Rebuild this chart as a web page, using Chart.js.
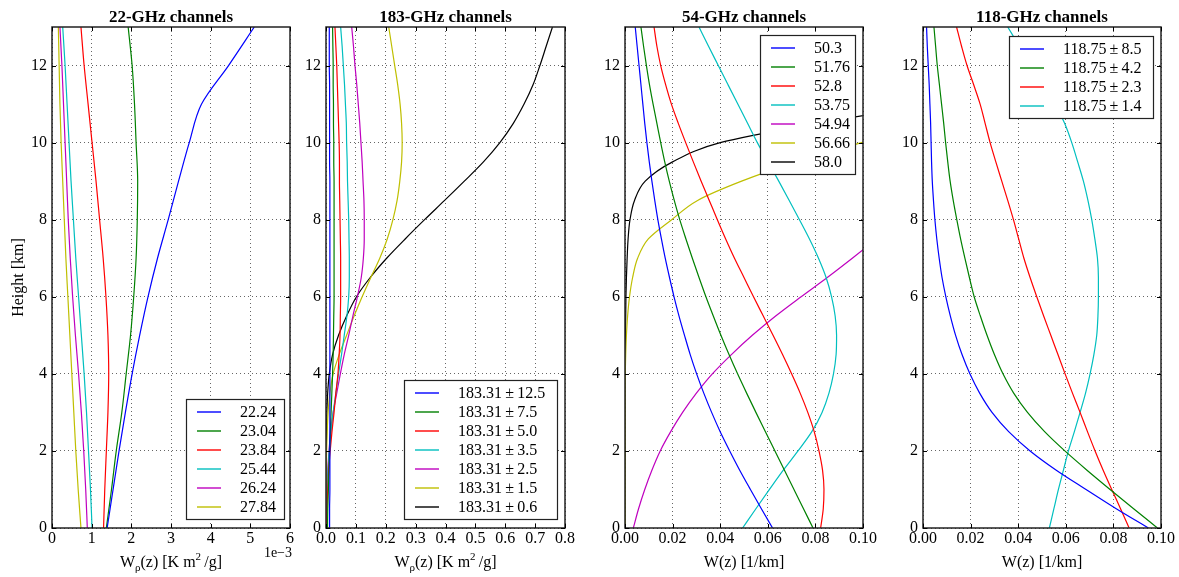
<!DOCTYPE html>
<html><head><meta charset="utf-8">
<script src="https://cdn.jsdelivr.net/npm/chart.js@4/dist/chart.umd.min.js"></script>
<style>
html,body{margin:0;padding:0;background:#fff;width:1179px;height:577px;overflow:hidden}
#wrap{position:relative;width:1179px;height:577px}
canvas{position:absolute;top:0}
</style></head><body>
<div id="wrap"></div>
<script>
// ---------- DATA ----------
// heights [km]
const heightsCoarse = [0,1,2,3,4,5,6,7,8,9,10,11,12,13];
const heightsFine = [0,0.5,1,1.5,2,2.5,3,3.5,4,4.5,5,5.5,6,6.5,7,7.5,8,8.5,9,9.5,10,10.5,11,11.5,12,12.5,13];
const heightTicks = [0,2,4,6,8,10,12];

// 22-GHz channels, W_rho(z) in units of 1e-3 K m^2/g (heightsCoarse)
const labels22 = ['22.24','23.04','23.84','25.44','26.24','27.84'];
const w22_2224 = [1.39,1.54,1.69,1.85,2.02,2.21,2.42,2.66,2.93,3.19,3.46,3.77,4.45,5.10];
const w22_2304 = [1.37,1.50,1.62,1.76,1.87,1.98,2.06,2.12,2.15,2.16,2.12,2.08,2.02,1.92];
const w22_2384 = [1.30,1.33,1.37,1.41,1.43,1.41,1.36,1.29,1.20,1.11,1.01,0.91,0.81,0.73];
const w22_2544 = [1.01,0.97,0.92,0.87,0.81,0.74,0.67,0.60,0.54,0.48,0.43,0.38,0.33,0.27];
const w22_2624 = [0.89,0.85,0.80,0.74,0.67,0.59,0.52,0.46,0.41,0.37,0.33,0.29,0.25,0.20];
const w22_2784 = [0.73,0.66,0.60,0.55,0.50,0.45,0.40,0.35,0.31,0.27,0.23,0.20,0.18,0.16];
const ticks22 = [0,1,2,3,4,5,6];

// 183-GHz channels, W_rho(z) K m^2/g (heightsFine)
const labels183 = ['183.31\u2009±\u200912.5','183.31\u2009±\u20097.5','183.31\u2009±\u20095.0','183.31\u2009±\u20093.5','183.31\u2009±\u20092.5','183.31\u2009±\u20091.5','183.31\u2009±\u20090.6'];
const w183_125 = [0.012,0.012,0.013,0.013,0.013,0.013,0.013,0.013,0.013,0.013,0.013,0.013,0.013,0.013,0.013,0.013,0.013,0.013,0.013,0.012,0.012,0.012,0.012,0.012,0.011,0.011,0.011];
const w183_75 = [0.005,0.006,0.008,0.010,0.012,0.0145,0.017,0.0195,0.022,0.024,0.025,0.026,0.027,0.027,0.027,0.027,0.027,0.027,0.027,0.026,0.026,0.025,0.025,0.024,0.024,0.023,0.022];
const w183_50 = [0.002,0.003,0.006,0.009,0.014,0.020,0.027,0.033,0.040,0.044,0.047,0.048,0.049,0.049,0.049,0.048,0.047,0.046,0.045,0.045,0.044,0.042,0.040,0.038,0.036,0.033,0.030];
const w183_35 = [0.002,0.003,0.004,0.007,0.011,0.017,0.024,0.033,0.042,0.052,0.061,0.070,0.076,0.078,0.078,0.077,0.076,0.074,0.072,0.071,0.069,0.068,0.065,0.062,0.058,0.054,0.049];
const w183_25 = [0.001,0.002,0.004,0.006,0.010,0.016,0.024,0.036,0.048,0.061,0.076,0.090,0.105,0.118,0.125,0.128,0.128,0.127,0.124,0.121,0.117,0.113,0.108,0.103,0.097,0.092,0.086];
const w183_15 = [0.0003,0.0005,0.001,0.001,0.002,0.004,0.007,0.013,0.024,0.044,0.069,0.094,0.121,0.150,0.180,0.205,0.224,0.238,0.247,0.253,0.255,0.253,0.248,0.240,0.230,0.220,0.210];
const w183_06 = [0.0002,0.0003,0.0005,0.001,0.001,0.002,0.003,0.0056,0.011,0.022,0.042,0.069,0.102,0.148,0.203,0.265,0.330,0.397,0.463,0.527,0.582,0.627,0.663,0.693,0.716,0.737,0.758];
const ticks183 = [0,0.1,0.2,0.3,0.4,0.5,0.6,0.7,0.8];

// 54-GHz channels, W(z) 1/km (heightsFine; null = beyond the drawn range)
const labels54 = ['50.3','51.76','52.8','53.75','54.94','56.66','58.0'];
const w54_503 = [0.062,0.0573,0.0527,0.0482,0.0440,0.0400,0.0364,0.0331,0.0301,0.0274,0.0250,0.0227,0.0206,0.0187,0.0169,0.0153,0.0138,0.0125,0.0113,0.0102,0.0092,0.0083,0.0075,0.0067,0.0059,0.0051,0.0043];
const w54_5176 = [0.0790,0.0750,0.0710,0.0670,0.0630,0.0590,0.0550,0.0511,0.0473,0.0437,0.0403,0.0371,0.0340,0.0311,0.0283,0.0256,0.0230,0.0207,0.0186,0.0167,0.0150,0.0134,0.0118,0.0103,0.0090,0.0078,0.0067];
const w54_528 = [0.0822,0.0833,0.0836,0.0830,0.0815,0.0795,0.0768,0.0736,0.0700,0.0662,0.0622,0.0581,0.0540,0.0500,0.0460,0.0423,0.0388,0.0354,0.0320,0.0287,0.0255,0.0224,0.0195,0.0171,0.0150,0.0134,0.0122];
const w54_5375 = [0.0494,0.0550,0.0607,0.0665,0.0727,0.0785,0.0828,0.0857,0.0876,0.0887,0.0889,0.0883,0.0868,0.0845,0.0813,0.0775,0.0733,0.0690,0.0646,0.0601,0.0556,0.0515,0.0474,0.0433,0.0392,0.0351,0.0311];
const w54_5494 = [0.0035,0.0057,0.0083,0.0113,0.0148,0.0192,0.0242,0.0300,0.0367,0.0447,0.0535,0.0633,0.0740,0.0850,0.0955,0.1057,null,null,null,null,null,null,null,null,null,null,null];
const w54_5666 = [0,0,0,0,0,0,0,0,0.0001,0.0003,0.0006,0.0011,0.0019,0.0032,0.0053,0.0098,0.0196,0.0305,0.049,0.072,0.0994,0.13,null,null,null,null,null];
const w54_580 = [0,0,0,0,0,0,0,0,0,0.0001,0.0002,0.0003,0.0004,0.0006,0.0009,0.0013,0.0021,0.004,0.0085,0.02,0.040,0.081,0.13,null,null,null,null];
const ticksW = [0,0.02,0.04,0.06,0.08,0.10];

// 118-GHz channels, W(z) 1/km (heightsFine)
const labels118 = ['118.75\u2009±\u20098.5','118.75\u2009±\u20094.2','118.75\u2009±\u20092.3','118.75\u2009±\u20091.4'];
const w118_85 = [0.0947,0.0812,0.0685,0.0560,0.0450,0.0360,0.0290,0.0238,0.0197,0.0164,0.0137,0.0115,0.0096,0.0080,0.0068,0.0058,0.0050,0.0044,0.0039,0.0036,0.0034,0.0032,0.0029,0.0026,0.0022,0.0018,0.0015];
const w118_42 = [0.0985,0.0885,0.0786,0.0689,0.0596,0.0511,0.0439,0.0381,0.0336,0.0300,0.0269,0.0241,0.0215,0.0195,0.0176,0.0158,0.0142,0.0127,0.0114,0.0104,0.0095,0.0087,0.0078,0.0069,0.0060,0.0053,0.0046];
const w118_23 = [0.0866,0.0830,0.0793,0.0757,0.0723,0.0691,0.0660,0.0628,0.0597,0.0567,0.0537,0.0507,0.0478,0.0450,0.0424,0.0402,0.0380,0.0356,0.0331,0.0306,0.0282,0.0261,0.0240,0.0213,0.0185,0.0162,0.0141];
const w118_14 = [0.0531,0.0550,0.0569,0.0590,0.0611,0.0636,0.0660,0.0683,0.0702,0.0718,0.0730,0.0735,0.0737,0.0737,0.0733,0.0722,0.0709,0.0693,0.0674,0.0650,0.0625,0.0595,0.0555,0.0505,0.0454,0.0405,0.0356];

const colors = ['#0000ff','#008000','#ff0000','#00bfbf','#bf00bf','#bfbf00','#000000'];

// ---------- DRAWING ----------
const SERIF = '"Liberation Serif", "Times New Roman", serif';
const H = 577;

function drawRich(ctx, parts, cx, y) {
  let total = 0;
  parts.forEach(p => { ctx.font = p.s + 'px ' + SERIF; p.w = ctx.measureText(p.t).width; total += p.w; });
  let x = cx - total / 2;
  ctx.textAlign = 'left';
  parts.forEach(p => { ctx.font = p.s + 'px ' + SERIF; ctx.fillText(p.t, x, y + p.dy); x += p.w; });
}

const decor = {
  id: 'decor',
  afterDraw(chart, args, o) {
    const ctx = chart.ctx, a = chart.chartArea;
    ctx.save();
    // legend box
    const lg = o.legend, n = chart.data.datasets.length;
    const pitch = 19, bh = 25 + (n - 1) * pitch;
    const bx = a.right - lg.dx - lg.w;
    const by = lg.pos === 'top' ? a.top + lg.dy : a.bottom - lg.dy - bh;
    ctx.fillStyle = '#fff';
    ctx.fillRect(bx, by, lg.w, bh);
    ctx.strokeStyle = '#222'; ctx.lineWidth = 1.2;
    ctx.strokeRect(bx + 0.5, by + 0.5, lg.w, bh);
    ctx.font = '16px ' + SERIF; ctx.textBaseline = 'middle'; ctx.textAlign = 'left';
    chart.data.datasets.forEach((ds, i) => {
      const yy = by + 13 + i * pitch;
      ctx.strokeStyle = ds.borderColor; ctx.lineWidth = 1.4;
      ctx.beginPath(); ctx.moveTo(bx + 11, yy); ctx.lineTo(bx + 35, yy); ctx.stroke();
      ctx.fillStyle = '#000';
      ctx.fillText(ds.label, bx + 54, yy + 1);
    });
    // frame
    ctx.strokeStyle = '#222'; ctx.lineWidth = 1.5;
    ctx.strokeRect(a.left, a.top, a.right - a.left, a.bottom - a.top);
    // inside ticks
    ctx.lineWidth = 1; ctx.strokeStyle = '#000';
    const xs = chart.scales.x, ys = chart.scales.y;
    xs.ticks.forEach(t => {
      const px = Math.round(xs.getPixelForValue(t.value)) + 0.5;
      ctx.beginPath(); ctx.moveTo(px, a.bottom); ctx.lineTo(px, a.bottom - 4);
      ctx.moveTo(px, a.top); ctx.lineTo(px, a.top + 4); ctx.stroke();
    });
    ys.ticks.forEach(t => {
      const py = Math.round(ys.getPixelForValue(t.value)) + 0.5;
      ctx.beginPath(); ctx.moveTo(a.left, py); ctx.lineTo(a.left + 4, py);
      ctx.moveTo(a.right, py); ctx.lineTo(a.right - 4, py); ctx.stroke();
    });
    // title
    ctx.fillStyle = '#000';
    ctx.font = 'bold 17px ' + SERIF; ctx.textAlign = 'center'; ctx.textBaseline = 'alphabetic';
    const cx = (a.left + a.right) / 2;
    ctx.fillText(o.title, cx, 22);
    // x-axis title
    if (o.rho) {
      drawRich(ctx, [
        {t: 'W', s: 16, dy: 0}, {t: 'ρ', s: 11, dy: 4}, {t: '(z) [K m', s: 16, dy: 0},
        {t: '2', s: 11, dy: -7}, {t: '\u2009/g]', s: 16, dy: 0}], cx, 567);
    } else {
      ctx.font = '16px ' + SERIF; ctx.textAlign = 'center';
      ctx.fillText(o.xTitle, cx, 567);
    }
    // offset text
    if (o.offset) {
      ctx.font = '14px ' + SERIF; ctx.textAlign = 'right';
      ctx.fillText(o.offset, a.right + 2, 557);
    }
    // y-axis title
    if (o.yTitle) {
      ctx.save();
      ctx.translate(19, (a.top + a.bottom) / 2);
      ctx.rotate(-Math.PI / 2);
      ctx.font = '16px ' + SERIF; ctx.textAlign = 'center'; ctx.textBaseline = 'middle';
      ctx.fillText(o.yTitle, 0, 0);
      ctx.restore();
    }
    ctx.restore();
  }
};

function makePanel(p) {
  const c = document.createElement('canvas');
  const w = p.axisW + (p.plotR - p.plotL) + p.padR;
  c.width = w; c.height = H;
  c.style.left = (p.plotL - p.axisW) + 'px';
  c.style.width = w + 'px'; c.style.height = H + 'px';
  document.getElementById('wrap').appendChild(c);
  const datasets = p.series.map((vals, i) => ({
    label: p.labels[i],
    data: p.heights.map((h, j) => vals[j] == null ? null : {x: vals[j], y: h}).filter(d => d),
    borderColor: colors[i], backgroundColor: colors[i],
    borderWidth: 1.2, pointRadius: 0, fill: false,
    cubicInterpolationMode: 'monotone'
  }));
  new Chart(c, {
    type: 'line',
    data: {datasets},
    plugins: [decor],
    options: {
      responsive: false, animation: false, indexAxis: 'y',
      layout: {padding: {top: 27, left: 0, right: p.padR, bottom: 0}},
      plugins: {legend: {display: false}, tooltip: {enabled: false},
        decor: {title: p.title, rho: p.rho, xTitle: p.xTitle, offset: p.offset, yTitle: p.yTitle, legend: p.legend}},
      scales: {
        x: {
          type: 'linear', position: 'bottom', min: p.xTicks[0], max: p.xTicks[p.xTicks.length - 1],
          afterBuildTicks: s => { s.ticks = p.xTicks.map(v => ({value: v})); },
          afterFit: s => { s.height = H - 528; s.paddingLeft = 0; s.paddingRight = 0; },
          ticks: {autoSkip: false, maxRotation: 0, padding: 1, color: '#000',
            font: {family: SERIF, size: 16}, callback: v => v.toFixed(p.dec)},
          grid: {color: 'rgba(0,0,0,0.6)', lineWidth: 1, drawTicks: false},
          border: {display: false, dash: [1, 3]}
        },
        y: {
          type: 'linear', position: 'left', min: 0, max: 13,
          afterBuildTicks: s => { s.ticks = heightTicks.map(v => ({value: v})); },
          afterFit: s => { s.width = p.axisW; s.paddingTop = 0; s.paddingBottom = 0; },
          ticks: {autoSkip: false, padding: 5, color: '#000',
            font: {family: SERIF, size: 16}, callback: v => String(v)},
          grid: {color: 'rgba(0,0,0,0.6)', lineWidth: 1, drawTicks: false},
          border: {display: false, dash: [1, 3]}
        }
      }
    }
  });
}

makePanel({plotL: 52, plotR: 290, axisW: 52, padR: 30, heights: heightsCoarse, labels: labels22,
  series: [w22_2224, w22_2304, w22_2384, w22_2544, w22_2624, w22_2784], xTicks: ticks22, dec: 0,
  title: '22-GHz channels', rho: true, offset: '1e\u22123', yTitle: 'Height [km]',
  legend: {pos: 'bottom', dx: 6, dy: 9, w: 98}});
makePanel({plotL: 326, plotR: 565, axisW: 40, padR: 30, heights: heightsFine, labels: labels183,
  series: [w183_125, w183_75, w183_50, w183_35, w183_25, w183_15, w183_06], xTicks: ticks183, dec: 1,
  title: '183-GHz channels', rho: true,
  legend: {pos: 'bottom', dx: 8, dy: 9, w: 153}});
makePanel({plotL: 625, plotR: 863, axisW: 40, padR: 30, heights: heightsFine, labels: labels54,
  series: [w54_503, w54_5176, w54_528, w54_5375, w54_5494, w54_5666, w54_580], xTicks: ticksW, dec: 2,
  title: '54-GHz channels', xTitle: 'W(z) [1/km]',
  legend: {pos: 'top', dx: 8, dy: 8, w: 95}});
makePanel({plotL: 923, plotR: 1161, axisW: 40, padR: 18, heights: heightsFine, labels: labels118,
  series: [w118_85, w118_42, w118_23, w118_14], xTicks: ticksW, dec: 2,
  title: '118-GHz channels', xTitle: 'W(z) [1/km]',
  legend: {pos: 'top', dx: 8, dy: 9, w: 144}});
</script>
</body></html>
